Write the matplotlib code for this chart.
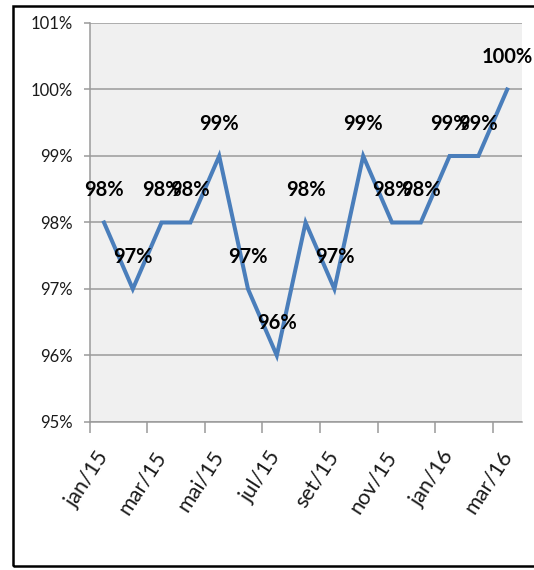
import matplotlib
matplotlib.use("Agg")
import matplotlib.pyplot as plt
from matplotlib.patches import Rectangle
from matplotlib.ticker import FuncFormatter, FixedLocator

months = ["jan/15", "fev/15", "mar/15", "abr/15", "mai/15", "jun/15", "jul/15",
          "ago/15", "set/15", "out/15", "nov/15", "dez/15", "jan/16", "fev/16", "mar/16"]
values = [98, 97, 98, 98, 99, 97, 96, 98, 97, 99, 98, 98, 99, 99, 100]
yticks = [95, 96, 97, 98, 99, 100, 101]

FAM = ["Lato", "DejaVu Sans"]
plt.rcParams["font.family"] = FAM

W, H = 534, 570
fig = plt.figure(figsize=(W / 100, H / 100), dpi=100)
ax = fig.add_axes([89.6 / W, 1 - 422 / H, (521.6 - 89.6) / W, (422 - 23) / H])
ax.set_facecolor("#F0F0F0")

x = list(range(len(months)))
ax.plot(x, values, color="#4A7EBB", lw=2.9, solid_joinstyle="miter", zorder=3)

for xi, v in zip(x, values):
    ax.annotate(f"{v}%", (xi, v), xytext=(0, 32), textcoords="offset pixels",
                ha="center", va="center", fontsize=14.5, fontweight="bold",
                color="black", zorder=4, annotation_clip=False)

ax.set_xlim(-0.5, len(months) - 0.5)
ax.set_ylim(95, 101)
ax.set_yticks(yticks)
ax.yaxis.set_major_formatter(FuncFormatter(lambda v, p: f"{int(round(v))}%"))
ax.grid(axis="y", color="#9A9A9A", lw=1.1)
ax.set_axisbelow(True)

# x ticks at boundaries every 2 categories, labels at category centres
ax.xaxis.set_major_locator(FixedLocator([i - 0.5 for i in range(0, len(months), 2)]))
ax.xaxis.set_major_formatter(FuncFormatter(lambda v, p: ""))
ax.tick_params(axis="x", which="major", length=8, width=1.1, color="#9A9A9A")
ax.set_xticks(list(range(0, len(months), 2)), minor=True)
ax.set_xticklabels([months[i] for i in range(0, len(months), 2)], minor=True,
                   rotation=57, ha="right", va="center", rotation_mode="anchor",
                   fontsize=15.5, color="#1A1A1A")
ax.tick_params(axis="x", which="minor", length=0, pad=22)
ax.tick_params(axis="y", length=4, width=1.1, color="#9A9A9A", pad=8,
               labelsize=12, labelcolor="#1A1A1A")

for s in ["top", "right"]:
    ax.spines[s].set_visible(False)
for s in ["left", "bottom"]:
    ax.spines[s].set_color("#9A9A9A")
    ax.spines[s].set_linewidth(1.1)

# outer frame
fig.patches.append(Rectangle((13 / W, 1 - 566 / H), 1.05, (566 - 6) / H,
                             transform=fig.transFigure, fill=False,
                             edgecolor="black", lw=1.8, clip_on=False))

fig.savefig("out.png", dpi=100, facecolor="white")
